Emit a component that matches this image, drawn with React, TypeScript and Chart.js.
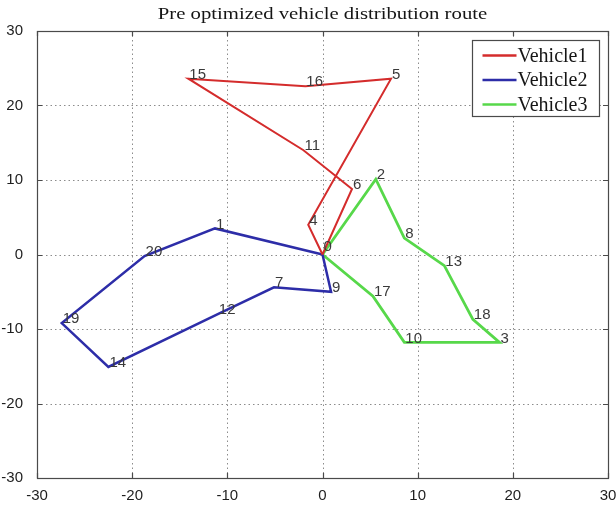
import { useEffect, useRef } from 'react';
import { Chart, registerables } from 'chart.js';

Chart.register(...registerables);

// Customer / depot coordinates (index = node id, node 0 is the depot)
const nodeX = [0, -11.3, 5.6, 18.6, -1.5, 7.2, 3.1, -5.1, 8.6, 0.9, 8.6, -2.0, -11.0, 12.8, -22.5, -14.1, -1.8, 5.3, 15.8, -27.4, -18.7];
const nodeY = [0, 3.5, 10.1, -11.8, 4.0, 23.6, 8.8, -4.4, 2.2, -5.0, -11.8, 14.0, -8.0, -1.5, -15.1, 23.6, 22.6, -5.6, -8.7, -9.2, -0.2];

// Visiting order of each vehicle
const route1 = [0, 4, 5, 16, 15, 11, 6, 0];
const route2 = [0, 1, 20, 19, 14, 12, 7, 9, 0];
const route3 = [0, 2, 8, 13, 18, 3, 10, 17, 0];

const vehicleNames = ['Vehicle1', 'Vehicle2', 'Vehicle3'];
const vehicleColors = ['#d42c2c', '#2d2da8', '#57d84a'];
const vehicleWidths = [2, 2.5, 2.8];

const axisTicks = [-30, -20, -10, 0, 10, 20, 30];
const chartTitle = 'Pre optimized vehicle distribution route';

const routes = [route1, route2, route3];

const toPoints = (route: number[]) => route.map((id) => ({ x: nodeX[id], y: nodeY[id] }));

// Dotted grid, box frame and inward tick marks
const framePlugin = {
  id: 'frame',
  beforeDatasetsDraw(chart: any) {
    const { ctx, chartArea: a, scales } = chart;
    const xs = scales.x;
    const ys = scales.y;
    ctx.save();
    ctx.strokeStyle = '#8c8c8c';
    ctx.lineWidth = 1;
    ctx.setLineDash([1.5, 3]);
    axisTicks.forEach((t) => {
      if (t === axisTicks[0] || t === axisTicks[axisTicks.length - 1]) return;
      const px = Math.round(xs.getPixelForValue(t)) + 0.5;
      ctx.beginPath();
      ctx.moveTo(px, a.top);
      ctx.lineTo(px, a.bottom);
      ctx.stroke();
      const py = Math.round(ys.getPixelForValue(t)) + 0.5;
      ctx.beginPath();
      ctx.moveTo(a.left, py);
      ctx.lineTo(a.right, py);
      ctx.stroke();
    });
    ctx.restore();
  },
  afterDatasetsDraw(chart: any) {
    const { ctx, chartArea: a, scales } = chart;
    const xs = scales.x;
    const ys = scales.y;
    ctx.save();
    ctx.strokeStyle = '#4a4a4a';
    ctx.lineWidth = 1.2;
    ctx.strokeRect(Math.round(a.left) + 0.5, Math.round(a.top) + 0.5, Math.round(a.right - a.left), Math.round(a.bottom - a.top));
    const len = 5;
    axisTicks.forEach((t) => {
      const px = Math.round(xs.getPixelForValue(t)) + 0.5;
      ctx.beginPath();
      ctx.moveTo(px, a.bottom);
      ctx.lineTo(px, a.bottom - len);
      ctx.moveTo(px, a.top);
      ctx.lineTo(px, a.top + len);
      const py = Math.round(ys.getPixelForValue(t)) + 0.5;
      ctx.moveTo(a.left, py);
      ctx.lineTo(a.left + len, py);
      ctx.moveTo(a.right, py);
      ctx.lineTo(a.right - len, py);
      ctx.stroke();
    });
    ctx.restore();
  },
};

// Node id labels next to every visited point
const nodeLabelPlugin = {
  id: 'nodeLabels',
  afterDatasetsDraw(chart: any) {
    const { ctx, scales } = chart;
    ctx.save();
    ctx.font = '15px "Liberation Sans", Arial, sans-serif';
    ctx.fillStyle = '#3a3a3a';
    ctx.textAlign = 'left';
    ctx.textBaseline = 'middle';
    nodeX.forEach((x, id) => {
      const px = scales.x.getPixelForValue(x);
      const py = scales.y.getPixelForValue(nodeY[id]);
      ctx.fillText(String(id), px + 1, py - (id === 0 ? 8 : 4));
    });
    ctx.restore();
  },
};

// Boxed legend in the upper right corner of the axes, plus the title
const legendPlugin = {
  id: 'boxLegend',
  afterDraw(chart: any) {
    const { ctx, chartArea: a } = chart;
    ctx.save();
    const boxW = 127;
    const boxH = 76;
    const bx = Math.round(a.right - 9 - boxW) + 0.5;
    const by = Math.round(a.top + 9) + 0.5;
    ctx.fillStyle = '#ffffff';
    ctx.fillRect(bx, by, boxW, boxH);
    ctx.strokeStyle = '#4a4a4a';
    ctx.lineWidth = 1.2;
    ctx.strokeRect(bx, by, boxW, boxH);
    ctx.font = '20px "Liberation Serif", "Times New Roman", serif';
    ctx.textAlign = 'left';
    ctx.textBaseline = 'middle';
    chart.data.datasets.forEach((ds: any, i: number) => {
      const y = by + 15 + i * 24.5;
      ctx.strokeStyle = ds.borderColor;
      ctx.lineWidth = 2.5;
      ctx.beginPath();
      ctx.moveTo(bx + 10, y);
      ctx.lineTo(bx + 44, y);
      ctx.stroke();
      ctx.fillStyle = '#151515';
      ctx.fillText(ds.label, bx + 45, y + 1);
    });

    ctx.font = '17px "Liberation Serif", "Times New Roman", serif';
    ctx.fillStyle = '#151515';
    ctx.textAlign = 'center';
    ctx.textBaseline = 'middle';
    const cx = (a.left + a.right) / 2;
    ctx.translate(cx, 15);
    ctx.scale(1.22, 1);
    ctx.fillText(chartTitle, 0, 0);
    ctx.restore();
  },
};

const tickFont = { family: '"Liberation Sans", Arial, sans-serif', size: 15 };

export default function App() {
  const canvasRef = useRef<HTMLCanvasElement | null>(null);

  useEffect(() => {
    const canvas = canvasRef.current;
    if (!canvas) return;
    const chart = new Chart(canvas, {
      type: 'scatter',
      data: {
        datasets: routes.map((route, i) => ({
          label: vehicleNames[i],
          data: toPoints(route),
          showLine: true,
          borderColor: vehicleColors[i],
          backgroundColor: vehicleColors[i],
          borderWidth: vehicleWidths[i],
          pointRadius: 0,
          pointHoverRadius: 0,
          tension: 0,
        })),
      },
      options: {
        responsive: false,
        animation: false,
        devicePixelRatio: 1,
        layout: { padding: { top: 31, right: 8, left: 0, bottom: 0 } },
        plugins: {
          legend: { display: false },
          title: { display: false },
          tooltip: { enabled: false },
        },
        scales: {
          x: {
            type: 'linear',
            min: -30,
            max: 30,
            grid: { display: false },
            border: { display: false },
            ticks: { stepSize: 10, autoSkip: false, maxRotation: 0, padding: 1, color: '#1e1e1e', font: tickFont },
            afterFit: (s: any) => {
              s.height = 27;
              s.paddingLeft = 0;
              s.paddingRight = 0;
            },
          },
          y: {
            type: 'linear',
            min: -30,
            max: 30,
            grid: { display: false },
            border: { display: false },
            ticks: { stepSize: 10, autoSkip: false, padding: 6, color: '#1e1e1e', font: tickFont },
            afterFit: (s: any) => {
              s.width = 37;
              s.paddingTop = 0;
              s.paddingBottom = 0;
            },
          },
        },
      },
      plugins: [framePlugin, nodeLabelPlugin, legendPlugin],
    });
    return () => chart.destroy();
  }, []);

  return (
    <div style={{ position: 'fixed', left: 0, top: 0, width: 616, height: 505, background: '#ffffff' }}>
      <canvas ref={canvasRef} width={616} height={505} />
    </div>
  );
}
